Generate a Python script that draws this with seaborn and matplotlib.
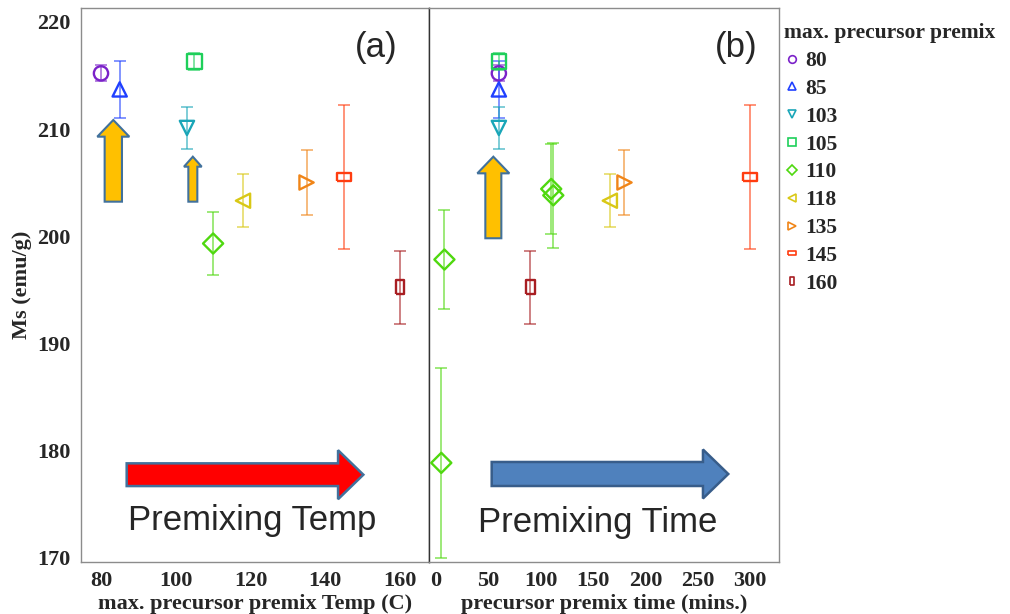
import numpy as np
import pandas as pd
import matplotlib
matplotlib.use("Agg")
import matplotlib.pyplot as plt
from matplotlib.lines import Line2D
from matplotlib.patches import FancyArrow
import seaborn as sns

# ---------------- data ----------------
premix_levels = ["80", "85", "103", "105", "110", "118", "135", "145", "160"]

# panel (a): Ms vs max. premix temperature
temp_a = [80, 85, 103, 105, 110, 118, 135, 145, 160]
ms_a = [215.2, 213.7, 210.1, 216.3, 199.3, 203.3, 205.0, 205.5, 195.2]
err_a = [0.75, 2.65, 1.95, 0.8, 2.95, 2.45, 3.0, 6.7, 3.4]
group_a = ["80", "85", "103", "105", "110", "118", "135", "145", "160"]

# panel (b): Ms vs premix time
group_b = ["80", "85", "103", "105", "110", "110", "110", "110", "118", "135", "145", "160"]
time_b = [60, 60, 60, 60, 5, 8, 110, 112, 166, 180, 300, 90]
ms_b = [215.2, 213.7, 210.1, 216.3, 178.8, 197.8, 204.4, 203.8, 203.3, 205.0, 205.5, 195.2]
err_b = [0.75, 2.65, 1.95, 0.8, 8.9, 4.6, 4.2, 4.9, 2.45, 3.0, 6.7, 3.4]

xticks_a = [80, 100, 120, 140, 160]
xticks_b = [0, 50, 100, 150, 200, 250, 300]
yticks = [170, 180, 190, 200, 210, 220]

# ---------------- styles ----------------
colors = ["#7B22C9", "#2040FF", "#1AA6B8", "#1ECF5A", "#4FD80F",
          "#D9C816", "#F08518", "#FF3D10", "#A81E22"]
palette = dict(zip(premix_levels, colors))
wide_rect = [(-1, -0.55), (1, -0.55), (1, 0.55), (-1, 0.55), (-1, -0.55)]
tall_rect = [(-0.6, -1), (0.6, -1), (0.6, 1), (-0.6, 1), (-0.6, -1)]
marker_list = ["o", "^", "v", "s", "D", "<", ">", wide_rect, tall_rect]
markers = dict(zip(premix_levels, marker_list))

sns.set_theme(style="white")
plt.rcParams["font.family"] = ["Liberation Serif", "DejaVu Serif"]
plt.rcParams["font.weight"] = "bold"

fig = plt.figure(figsize=(10.1, 6.14), dpi=100)
axA = fig.add_axes([0.0799, 0.0839, 0.3449, 0.9031])
axB = fig.add_axes([0.4248, 0.0839, 0.3465, 0.9031])

def draw_panel(ax, groups, xs, ys, errs):
    df = pd.DataFrame({"premix": groups, "x": xs, "ms": ys, "err": errs})
    for _, r in df.iterrows():
        ax.errorbar(r["x"], r["ms"], yerr=r["err"], fmt="none",
                    ecolor=palette[r["premix"]], alpha=0.6, elinewidth=1.3,
                    capsize=4, capthick=1.3, zorder=2)
    sns.scatterplot(data=df, x="x", y="ms", hue="premix", style="premix",
                    hue_order=premix_levels, style_order=premix_levels,
                    palette=palette, markers=markers, s=105, linewidth=1.7,
                    legend=False, ax=ax, zorder=3)
    coll = ax.collections[-1]
    fcs = coll.get_facecolors()
    coll.set_edgecolors(fcs)
    coll.set_facecolors("none")

draw_panel(axA, group_a, temp_a, ms_a, err_a)
draw_panel(axB, group_b, time_b, ms_b, err_b)

tick_font = dict(family="Liberation Serif", weight="bold", size=16)
for ax in (axA, axB):
    ax.set_ylim(169.49, 221.31)
    ax.set_yticks(yticks)
    for s in ax.spines.values():
        s.set_color("#8C8C8C")
        s.set_linewidth(1.0)
    ax.tick_params(axis="x", direction="in", length=5, color="#8C8C8C", pad=6,
                   labelsize=16)
    ax.tick_params(axis="y", direction="out", length=5, color="#8C8C8C", pad=2,
                   labelsize=16)
    for lab in ax.get_xticklabels() + ax.get_yticklabels():
        lab.set_fontweight("bold")

axA.set_xlim(74.57, 167.78)
axA.set_xticks(xticks_a)
axA.set_xticklabels([str(v) for v in xticks_a], fontdict=tick_font)
axA.set_yticklabels([str(v) for v in yticks], fontdict=tick_font)
axA.spines["right"].set_color("#333333")
axA.set_xlabel("max. precursor premix Temp (C)", fontsize=16, fontweight="bold", labelpad=2)
axA.set_ylabel("Ms (emu/g)", fontsize=16, fontweight="bold", labelpad=4)

axB.set_xlim(-6.69, 327.6)
axB.set_xticks(xticks_b)
axB.set_xticklabels([str(v) for v in xticks_b], fontdict=tick_font)
axB.tick_params(axis="y", left=False, labelleft=False)
axB.spines["left"].set_color("#333333")
axB.set_xlabel("precursor premix time (mins.)", fontsize=16, fontweight="bold", labelpad=2)
axB.set_ylabel("")

# ---------------- annotations ----------------
sans = "Liberation Sans"
axA.text(0.848, 0.928, "(a)", transform=axA.transAxes, ha="center", va="center",
         fontsize=25, family=sans, fontweight="normal")
axB.text(0.877, 0.928, "(b)", transform=axB.transAxes, ha="center", va="center",
         fontsize=25, family=sans, fontweight="normal")

axA.text(0.136, 0.0586, "Premixing Temp", transform=axA.transAxes, ha="left",
         va="baseline", fontsize=25, family=sans, fontweight="normal")
axB.text(0.14, 0.055, "Premixing Time", transform=axB.transAxes, ha="left",
         va="baseline", fontsize=25, family=sans, fontweight="normal")

def harrow(ax, x0, x1, y, body, head, hl, fc, ec):
    a = FancyArrow(x0, y, x1 - x0, 0, width=body, head_width=head,
                   head_length=hl, length_includes_head=True,
                   transform=ax.transAxes, fc=fc, ec=ec, lw=1.8, zorder=4)
    ax.add_patch(a)

def varrow(ax, x, y0, y1, body, head, hl):
    a = FancyArrow(x, y0, 0, y1 - y0, width=body, head_width=head,
                   head_length=hl, length_includes_head=True,
                   transform=ax.transAxes, fc="#FFC000", ec="#41719C",
                   lw=1.5, zorder=4)
    ax.add_patch(a)

harrow(axA, 0.132, 0.8114, 0.1583, 0.041, 0.0884, 0.0726, "#FF0000", "#41719C")
harrow(axB, 0.179, 0.855, 0.1596, 0.0433, 0.0884, 0.0723, "#4F81BD", "#385D8A")

varrow(axA, 0.0936, 0.6507, 0.798, 0.0497, 0.0919, 0.0301)
varrow(axA, 0.3219, 0.6507, 0.7318, 0.0258, 0.0508, 0.018)
varrow(axB, 0.1837, 0.5847, 0.7318, 0.0457, 0.0914, 0.030)

# ---------------- legend ----------------
handles = [Line2D([0], [0], marker=m, ls="none", mfc="none", mec=c, ms=5.5, mew=1.2)
           for m, c in zip(marker_list, colors)]
fig.legend(handles, premix_levels, title="max. precursor premix",
           loc="upper left", bbox_to_anchor=(0.776, 0.962), frameon=False,
           alignment="left", borderpad=0, borderaxespad=0,
           handlelength=0.8, handletextpad=0.2, labelspacing=0.36,
           prop=dict(family="Liberation Serif", weight="bold", size=15.5),
           title_fontproperties=dict(family="Liberation Serif", weight="bold", size=15.5))

fig.savefig("out.png", dpi=100)
